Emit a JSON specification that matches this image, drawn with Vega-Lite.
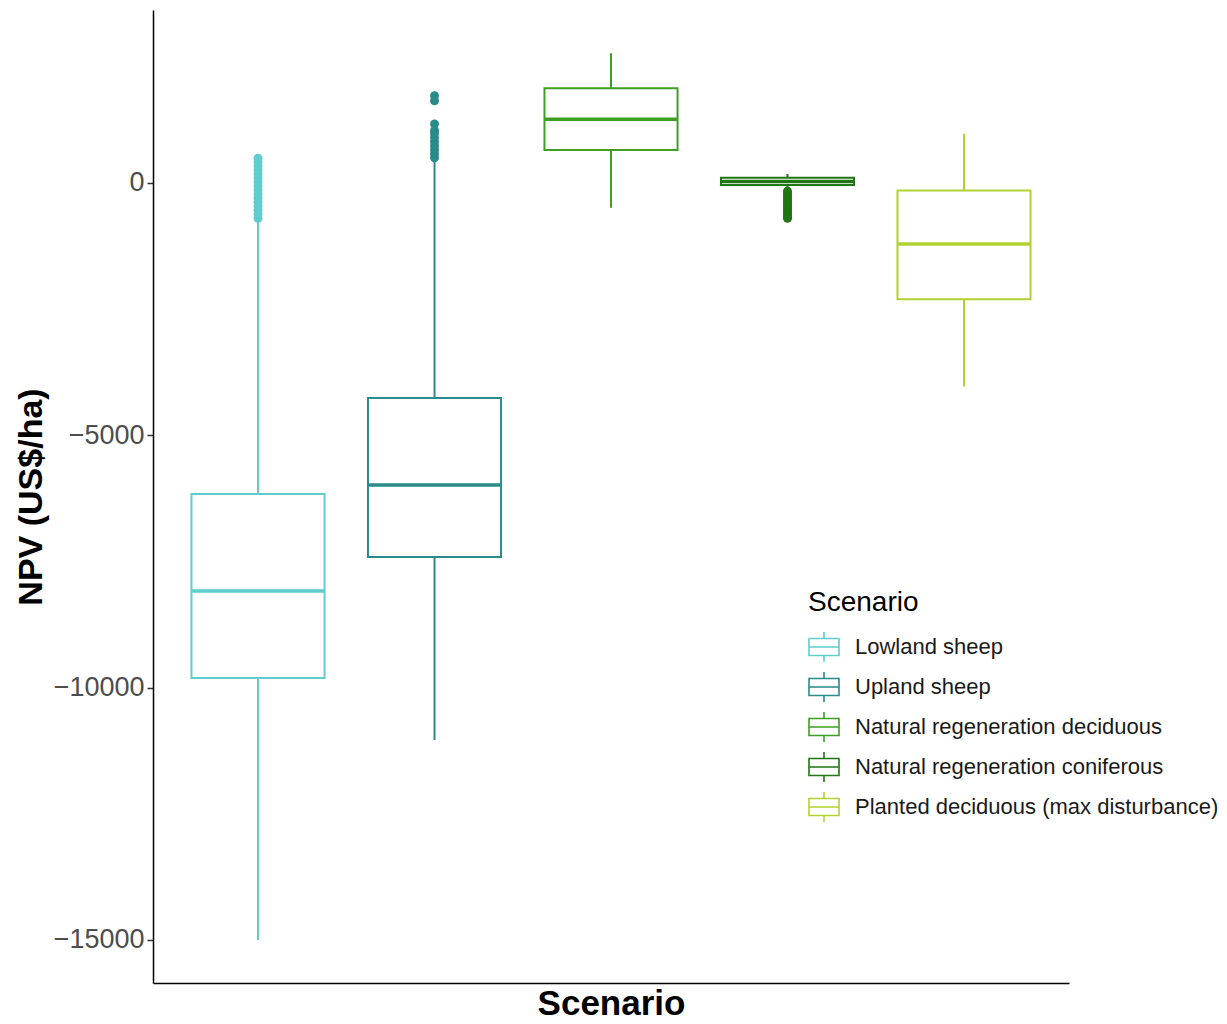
{
  "$schema": "https://vega.github.io/schema/vega-lite/v6.json",
  "width": 916,
  "height": 973,
  "autosize": {"type": "none"},
  "padding": {"left": 153, "top": 10, "right": 158, "bottom": 41},
  "background": "white",
  "config": {
    "font": "Liberation Sans",
    "view": {"stroke": null}
  },
  "datasets": {
    "boxes": [
      {"Scenario": "Lowland sheep", "lower": -15000, "q1": -9810, "median": -8085, "q3": -6163, "upper": -720},
      {"Scenario": "Upland sheep", "lower": -11038, "q1": -7412, "median": -5985, "q3": -4261, "upper": 440},
      {"Scenario": "Natural regeneration deciduous", "lower": -489, "q1": 654, "median": 1262, "q3": 1877, "upper": 2570},
      {"Scenario": "Natural regeneration coniferous", "lower": -139, "q1": -40, "median": 30, "q3": 105, "upper": 178},
      {"Scenario": "Planted deciduous (max disturbance)", "lower": -4030, "q1": -2303, "median": -1209, "q3": -150, "upper": 975}
    ],
    "outliers": [
      {"Scenario": "Lowland sheep", "NPV": -700},
      {"Scenario": "Lowland sheep", "NPV": -620},
      {"Scenario": "Lowland sheep", "NPV": -540},
      {"Scenario": "Lowland sheep", "NPV": -460},
      {"Scenario": "Lowland sheep", "NPV": -380},
      {"Scenario": "Lowland sheep", "NPV": -300},
      {"Scenario": "Lowland sheep", "NPV": -220},
      {"Scenario": "Lowland sheep", "NPV": -140},
      {"Scenario": "Lowland sheep", "NPV": -60},
      {"Scenario": "Lowland sheep", "NPV": 20},
      {"Scenario": "Lowland sheep", "NPV": 100},
      {"Scenario": "Lowland sheep", "NPV": 180},
      {"Scenario": "Lowland sheep", "NPV": 260},
      {"Scenario": "Lowland sheep", "NPV": 340},
      {"Scenario": "Lowland sheep", "NPV": 420},
      {"Scenario": "Lowland sheep", "NPV": 490},
      {"Scenario": "Upland sheep", "NPV": 500},
      {"Scenario": "Upland sheep", "NPV": 580},
      {"Scenario": "Upland sheep", "NPV": 660},
      {"Scenario": "Upland sheep", "NPV": 740},
      {"Scenario": "Upland sheep", "NPV": 820},
      {"Scenario": "Upland sheep", "NPV": 900},
      {"Scenario": "Upland sheep", "NPV": 980},
      {"Scenario": "Upland sheep", "NPV": 1040},
      {"Scenario": "Upland sheep", "NPV": 1170},
      {"Scenario": "Upland sheep", "NPV": 1630},
      {"Scenario": "Upland sheep", "NPV": 1730},
      {"Scenario": "Natural regeneration coniferous", "NPV": -160},
      {"Scenario": "Natural regeneration coniferous", "NPV": -200},
      {"Scenario": "Natural regeneration coniferous", "NPV": -240},
      {"Scenario": "Natural regeneration coniferous", "NPV": -280},
      {"Scenario": "Natural regeneration coniferous", "NPV": -320},
      {"Scenario": "Natural regeneration coniferous", "NPV": -360},
      {"Scenario": "Natural regeneration coniferous", "NPV": -400},
      {"Scenario": "Natural regeneration coniferous", "NPV": -440},
      {"Scenario": "Natural regeneration coniferous", "NPV": -480},
      {"Scenario": "Natural regeneration coniferous", "NPV": -520},
      {"Scenario": "Natural regeneration coniferous", "NPV": -560},
      {"Scenario": "Natural regeneration coniferous", "NPV": -600},
      {"Scenario": "Natural regeneration coniferous", "NPV": -640},
      {"Scenario": "Natural regeneration coniferous", "NPV": -680},
      {"Scenario": "Natural regeneration coniferous", "NPV": -700}
    ]
  },
  "encoding": {
    "x": {
      "field": "Scenario",
      "type": "nominal",
      "sort": ["Lowland sheep", "Upland sheep", "Natural regeneration deciduous", "Natural regeneration coniferous", "Planted deciduous (max disturbance)"],
      "scale": {
        "domain": ["Lowland sheep", "Upland sheep", "Natural regeneration deciduous", "Natural regeneration coniferous", "Planted deciduous (max disturbance)"],
        "paddingInner": 0.246,
        "paddingOuter": 0.218
      },
      "axis": {
        "title": "Scenario",
        "labels": false,
        "ticks": false,
        "grid": false,
        "domainColor": "black",
        "domainWidth": 1.5,
        "titleFontSize": 35,
        "titleFontWeight": "bold",
        "titleColor": "black",
        "titlePadding": 3
      }
    }
  },
  "layer": [
    {
      "data": {"name": "boxes"},
      "mark": {"type": "rule", "strokeWidth": 2},
      "encoding": {
        "y": {
          "field": "lower",
          "type": "quantitative",
          "scale": {"domain": [-15853, 3428], "nice": false, "zero": false},
          "axis": {
            "title": "NPV (US$/ha)",
            "values": [-15000, -10000, -5000, 0],
            "format": "d",
            "grid": false,
            "labelFontSize": 27,
            "labelColor": "#4d4d4d",
            "labelPadding": 3,
            "tickSize": 6,
            "tickWidth": 1.5,
            "tickColor": "#333333",
            "domainColor": "black",
            "domainWidth": 1.5,
            "titleFontSize": 34,
            "titleFontWeight": "bold",
            "titleColor": "black",
            "titlePadding": 5
          }
        },
        "y2": {"field": "q1"},
        "color": {
          "field": "Scenario",
          "type": "nominal",
          "scale": {
            "domain": ["Lowland sheep", "Upland sheep", "Natural regeneration deciduous", "Natural regeneration coniferous", "Planted deciduous (max disturbance)"],
            "range": ["#5fcdcd", "#2a8b8b", "#3f9e24", "#1f7612", "#b2d231"]
          },
          "legend": {
            "orient": "none",
            "legendX": 655,
            "legendY": 579,
            "title": "Scenario",
            "titleFontSize": 28,
            "titleFontWeight": "normal",
            "titleColor": "black",
            "titlePadding": 14,
            "labelFontSize": 22,
            "labelColor": "#1a1a1a",
            "labelLimit": 500,
            "labelOffset": 15,
            "symbolType": "M-1,-0.57H1V0.57H-1Z M-1,0H1 M0,-1V-0.57 M0,0.57V1",
            "symbolSize": 900,
            "symbolStrokeWidth": 1.6,
            "symbolFillColor": "transparent",
            "rowPadding": 2,
            "encode": {
              "symbols": {
                "update": {
                  "fill": {"value": "transparent"},
                  "fillOpacity": {"value": 0},
                  "strokeOpacity": {"value": 1}
                }
              }
            }
          }
        }
      }
    },
    {
      "data": {"name": "boxes"},
      "mark": {"type": "rule", "strokeWidth": 2},
      "encoding": {
        "y": {"field": "q3", "type": "quantitative"},
        "y2": {"field": "upper"},
        "color": {"field": "Scenario", "type": "nominal"}
      }
    },
    {
      "data": {"name": "boxes"},
      "mark": {"type": "bar", "filled": false, "strokeWidth": 2},
      "encoding": {
        "y": {"field": "q1", "type": "quantitative"},
        "y2": {"field": "q3"},
        "color": {"field": "Scenario", "type": "nominal"}
      }
    },
    {
      "data": {"name": "boxes"},
      "mark": {"type": "tick", "size": 133, "thickness": 3.5, "opacity": 1},
      "encoding": {
        "y": {"field": "median", "type": "quantitative"},
        "fill": {
          "field": "Scenario",
          "type": "nominal",
          "scale": {
            "domain": ["Lowland sheep", "Upland sheep", "Natural regeneration deciduous", "Natural regeneration coniferous", "Planted deciduous (max disturbance)"],
            "range": ["#5fcdcd", "#2a8b8b", "#3f9e24", "#1f7612", "#b2d231"]
          },
          "legend": null
        }
      }
    },
    {
      "data": {"name": "outliers"},
      "mark": {"type": "circle", "size": 80, "opacity": 1},
      "encoding": {
        "y": {"field": "NPV", "type": "quantitative"},
        "fill": {"field": "Scenario", "type": "nominal", "legend": null}
      }
    }
  ]
}
